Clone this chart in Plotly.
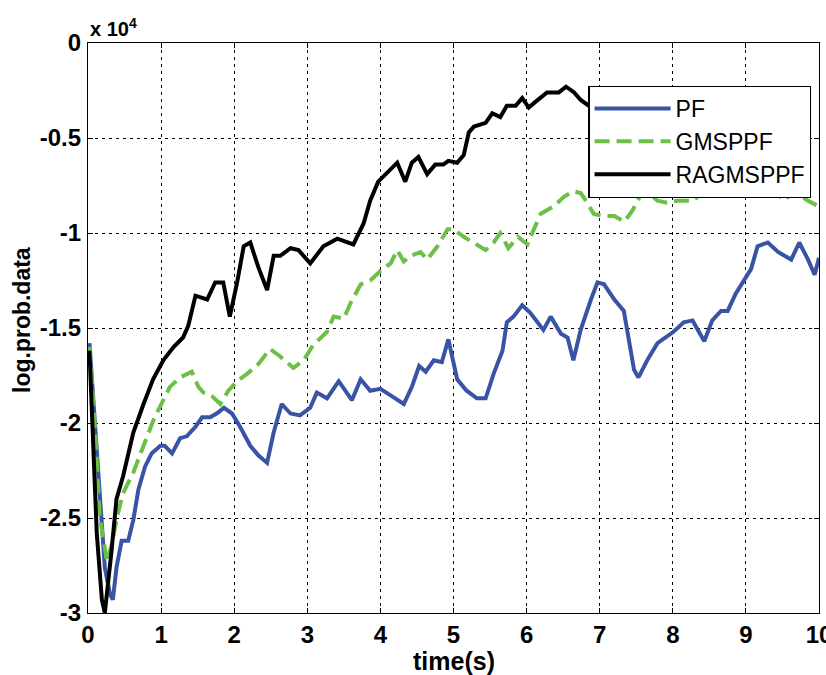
import plotly.graph_objects as go

# Data (values in units of 10^4)
pf_t = [0.02, 0.1, 0.16, 0.23, 0.3, 0.34, 0.39, 0.46, 0.55, 0.62, 0.69, 0.78, 0.87, 0.99, 1.05, 1.15,
        1.26, 1.35, 1.47, 1.56, 1.67, 1.76, 1.86, 1.97, 2.08, 2.22, 2.33, 2.45, 2.54, 2.65, 2.77,
        2.9, 3.04, 3.13, 3.27, 3.43, 3.61, 3.73, 3.86, 4.0, 4.16, 4.32, 4.43, 4.53, 4.62, 4.73,
        4.84, 4.93, 5.05, 5.18, 5.32, 5.44, 5.55, 5.67, 5.73, 5.82, 5.94, 6.05, 6.23, 6.33, 6.47,
        6.56, 6.64, 6.74, 6.88, 6.97, 7.06, 7.2, 7.33, 7.4, 7.47, 7.53, 7.65, 7.79, 7.93, 8.01,
        8.15, 8.27, 8.43, 8.54, 8.66, 8.75, 8.86, 8.97, 9.07, 9.16, 9.3, 9.44, 9.62, 9.73, 9.85,
        9.94, 10.0]
pf_v = [-1.58, -2.05, -2.4, -2.76, -2.9, -2.93, -2.76, -2.62, -2.62, -2.51, -2.35, -2.23, -2.16,
        -2.12, -2.12, -2.16, -2.08, -2.07, -2.02, -1.97, -1.97, -1.95, -1.92, -1.95, -2.02, -2.12,
        -2.17, -2.21, -2.05, -1.9, -1.95, -1.96, -1.92, -1.84, -1.87, -1.78, -1.88, -1.77, -1.83,
        -1.82, -1.86, -1.9, -1.81, -1.7, -1.73, -1.67, -1.68, -1.56, -1.77, -1.83, -1.87, -1.87,
        -1.74, -1.62, -1.47, -1.44, -1.38, -1.42, -1.51, -1.44, -1.53, -1.55, -1.67, -1.51, -1.35,
        -1.26, -1.27, -1.35, -1.41, -1.58, -1.72, -1.76, -1.67, -1.58, -1.54, -1.52, -1.47, -1.46,
        -1.57, -1.46, -1.41, -1.41, -1.32, -1.25, -1.19, -1.07, -1.05, -1.1, -1.14, -1.05, -1.14,
        -1.22, -1.13]

gm_t = [0.02, 0.1, 0.16, 0.26, 0.33, 0.4, 0.48, 0.62, 0.76, 0.9, 1.03, 1.12, 1.26, 1.42, 1.51,
        1.58, 1.7, 1.81, 1.92, 2.04, 2.18, 2.33, 2.49, 2.63, 2.81, 2.95, 3.08, 3.27, 3.36, 3.5,
        3.59, 3.73, 3.86, 4.0, 4.14, 4.23, 4.32, 4.41, 4.55, 4.64, 4.78, 4.92, 5.0, 5.14, 5.27,
        5.44, 5.55, 5.64, 5.75, 5.88, 6.01, 6.1, 6.19, 6.37, 6.51, 6.64, 6.74, 6.81, 6.92, 7.06,
        7.2, 7.34, 7.45, 7.56, 7.64, 7.79, 7.92, 8.06, 8.18, 8.29, 8.38, 8.6, 8.9, 9.15, 9.38,
        9.52, 9.66, 9.85, 10.0]
gm_v = [-1.6, -2.05, -2.49, -2.73, -2.63, -2.49, -2.37, -2.26, -2.12, -1.98, -1.88, -1.81, -1.76,
        -1.73, -1.81, -1.84, -1.86, -1.9, -1.83, -1.78, -1.74, -1.69, -1.61, -1.65, -1.71, -1.67,
        -1.59, -1.52, -1.44, -1.45, -1.37, -1.27, -1.25, -1.2, -1.16, -1.09, -1.15, -1.12, -1.1,
        -1.14, -1.07, -0.98, -0.98, -1.02, -1.05, -1.09, -1.05, -1.0, -1.08, -1.02, -1.06, -0.98,
        -0.9, -0.86, -0.81, -0.78, -0.79, -0.83, -0.9, -0.91, -0.91, -0.94, -0.88, -0.8, -0.78,
        -0.83, -0.84, -0.83, -0.83, -0.83, -0.79, -0.72, -0.68, -0.72, -0.77, -0.83, -0.78,
        -0.83, -0.86]

rag_t = [0.02, 0.07, 0.12, 0.19, 0.23, 0.32, 0.39, 0.48, 0.62, 0.76, 0.89, 1.03, 1.17, 1.3, 1.37,
         1.47, 1.63, 1.74, 1.85, 1.94, 2.04, 2.13, 2.22, 2.33, 2.45, 2.54, 2.63, 2.77, 2.88, 3.04,
         3.22, 3.41, 3.63, 3.77, 3.86, 3.97, 4.11, 4.23, 4.34, 4.43, 4.52, 4.64, 4.75, 4.86, 4.93,
         5.05, 5.14, 5.21, 5.28, 5.44, 5.53, 5.64, 5.73, 5.85, 5.94, 6.03, 6.12, 6.28, 6.44, 6.54,
         6.65, 6.74, 6.85, 7.1, 7.5, 8.0, 8.5, 9.0, 9.5, 9.8]
rag_v = [-1.62, -2.05, -2.58, -2.93, -3.0, -2.68, -2.4, -2.28, -2.05, -1.9, -1.77, -1.67, -1.6,
         -1.55, -1.49, -1.33, -1.35, -1.26, -1.26, -1.44, -1.26, -1.07, -1.05, -1.18, -1.3, -1.12,
         -1.12, -1.08, -1.09, -1.16, -1.07, -1.03, -1.06, -0.95, -0.83, -0.73, -0.68, -0.63, -0.73,
         -0.63, -0.6, -0.69, -0.64, -0.64, -0.62, -0.63, -0.59, -0.47, -0.44, -0.42, -0.37, -0.39,
         -0.33, -0.33, -0.29, -0.34, -0.31, -0.26, -0.26, -0.23, -0.26, -0.3, -0.33, -0.38, -0.36,
         -0.33, -0.38, -0.35, -0.4, -0.42]

series_names = ["PF", "GMSPPF", "RAGMSPPF"]
x_ticks = [0, 1, 2, 3, 4, 5, 6, 7, 8, 9, 10]
y_ticks = [0, -0.5, -1, -1.5, -2, -2.5, -3]
y_tick_labels = ["0", "-0.5", "-1", "-1.5", "-2", "-2.5", "-3"]

FONT = "Liberation Sans, Arial, sans-serif"

fig = go.Figure()
fig.add_trace(go.Scatter(x=pf_t, y=pf_v, mode="lines", name=series_names[0],
                         line=dict(color="#3A54A5", width=4)))
fig.add_trace(go.Scatter(x=gm_t, y=gm_v, mode="lines", name=series_names[1],
                         line=dict(color="#6CBF47", width=4, dash="15px,7px")))
fig.add_trace(go.Scatter(x=rag_t, y=rag_v, mode="lines", name=series_names[2],
                         line=dict(color="#000000", width=4)))

axis_common = dict(
    showline=True, linecolor="black", linewidth=1.2, mirror="ticks",
    ticks="inside", ticklen=5, tickcolor="black", tickwidth=1,
    showgrid=True, gridcolor="black", gridwidth=1, griddash="3px,4px",
    zeroline=False, automargin=False, ticklabeloverflow="allow",
    tickfont=dict(family=FONT, size=24, color="black", weight="bold"),
)

fig.update_layout(
    width=826, height=675,
    margin=dict(l=88, r=7, t=43, b=62),
    paper_bgcolor="white", plot_bgcolor="white",
    showlegend=True,
    legend=dict(
        x=0.6845, y=0.925, xanchor="left", yanchor="top",
        bgcolor="white", bordercolor="black", borderwidth=1.2,
        font=dict(family=FONT, size=23, color="black"),
        itemwidth=76, tracegroupgap=0,
    ),
    xaxis=dict(range=[0, 10], tickvals=x_ticks, ticklabelstandoff=0, **axis_common),
    yaxis=dict(range=[-3, 0], tickvals=y_ticks, ticktext=y_tick_labels,
               ticklabelstandoff=1, **axis_common),
    annotations=[
        dict(text="x 10<sup>4</sup>", xref="paper", yref="paper", x=0.0, y=1.0,
             xanchor="left", yanchor="bottom", showarrow=False, yshift=1,
             font=dict(family=FONT, size=20, color="black", weight="bold")),
        dict(text="time(s)", xref="paper", yref="paper", x=0.5, y=0, yshift=-48,
             xanchor="center", yanchor="middle", showarrow=False,
             font=dict(family=FONT, size=25, color="black", weight="bold")),
        dict(text="log.prob.data", xref="paper", yref="paper", x=0, y=0.5, xshift=-66, yshift=8,
             xanchor="center", yanchor="middle", textangle=-90, showarrow=False,
             font=dict(family=FONT, size=23, color="black", weight="bold")),
    ],
)

fig.write_html("out.html", config={"displayModeBar": False},
               post_script="document.body.style.margin='0';")
